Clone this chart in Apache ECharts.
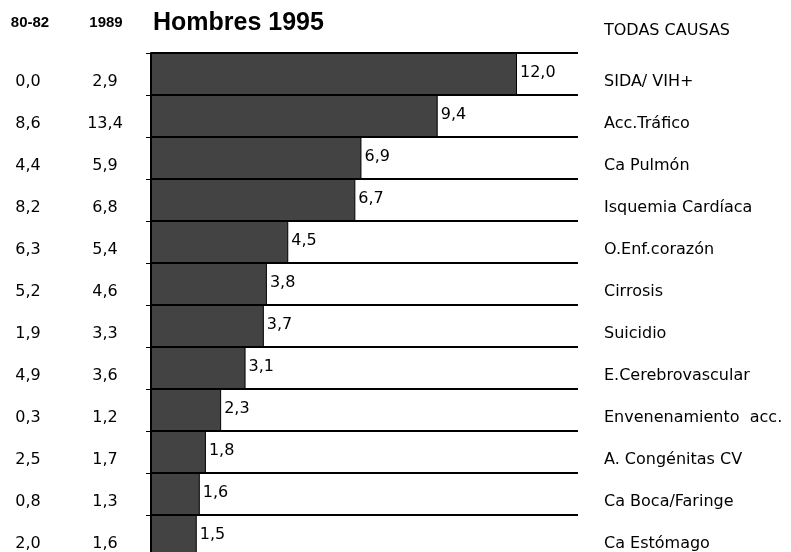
<!DOCTYPE html>
<html>
<head>
<meta charset="utf-8">
<title>Hombres 1995</title>
<script src="https://cdn.jsdelivr.net/npm/echarts@6/dist/echarts.min.js"></script>
<style>
  html, body { margin: 0; padding: 0; background: #fff; }
  #chart { width: 791px; height: 552px; }
</style>
</head>
<body>
<div id="chart"></div>
<script>
// causas de muerte, hombres
const causas = [
  'SIDA/ VIH+', 'Acc.Tráfico', 'Ca Pulmón', 'Isquemia Cardíaca', 'O.Enf.corazón',
  'Cirrosis', 'Suicidio', 'E.Cerebrovascular', 'Envenenamiento  acc.',
  'A. Congénitas CV', 'Ca Boca/Faringe', 'Ca Estómago'
]
const valores1995 = [12.0, 9.4, 6.9, 6.7, 4.5, 3.8, 3.7, 3.1, 2.3, 1.8, 1.6, 1.5]
const valores8082 = [0.0, 8.6, 4.4, 8.2, 6.3, 5.2, 1.9, 4.9, 0.3, 2.5, 0.8, 2.0]
const valores1989 = [2.9, 13.4, 5.9, 6.8, 5.4, 4.6, 3.3, 3.6, 1.2, 1.7, 1.3, 1.6]

const FONT = '"DejaVu Sans", sans-serif'
const FONT_BOLD = '"Liberation Sans", Arial, sans-serif'
const fmt = v => Number(v).toFixed(1).replace('.', ',')

const chart = echarts.init(document.getElementById('chart'))

const baseAxis = {
  type: 'category',
  inverse: true,
  axisLine: { show: false },
  axisTick: { show: false },
  splitLine: { show: false }
}

const option = {
  backgroundColor: '#fff',
  animation: false,
  // last row runs past the bottom edge, like the original
  grid: { left: 151, right: 213, top: 53, height: 504, outerBoundsMode: 'none' },
  xAxis: { type: 'value', min: 0, max: 14, show: false },
  yAxis: [
    {
      ...baseAxis,
      position: 'right',
      z: 5,
      data: causas,
      splitLine: { show: true, lineStyle: { color: '#000', width: 2 } },
      axisLabel: {
        margin: 26, color: '#000', fontSize: 16, fontFamily: FONT,
        verticalAlign: 'top', align: 'left'
      }
    },
    {
      ...baseAxis,
      position: 'left',
      z: 5,
      data: valores8082.map(fmt),
      axisLine: { show: true, lineStyle: { color: '#000', width: 2 } },
      axisTick: { show: true, length: 5, lineStyle: { color: '#000', width: 1 } },
      axisLabel: {
        margin: 123, color: '#000', fontSize: 16, fontFamily: FONT,
        verticalAlign: 'top', align: 'center'
      }
    },
    {
      ...baseAxis,
      position: 'left',
      data: valores1989.map(fmt),
      axisLabel: {
        margin: 46, color: '#000', fontSize: 16, fontFamily: FONT,
        verticalAlign: 'top', align: 'center'
      }
    }
  ],
  graphic: [
    { type: 'text', x: 153, y: 23, style: { text: 'Hombres 1995', font: 'bold 25px ' + FONT_BOLD, fill: '#000', textVerticalAlign: 'middle' } },
    { type: 'text', x: 30, y: 23, style: { text: '80-82', font: 'bold 15px ' + FONT_BOLD, fill: '#000', textAlign: 'center', textVerticalAlign: 'middle' } },
    { type: 'text', x: 106, y: 23, style: { text: '1989', font: 'bold 15px ' + FONT_BOLD, fill: '#000', textAlign: 'center', textVerticalAlign: 'middle' } },
    { type: 'text', x: 604, y: 31, style: { text: 'TODAS CAUSAS', font: '16px ' + FONT, fill: '#000', textVerticalAlign: 'middle' } }
  ],
  series: [{
    type: 'bar',
    yAxisIndex: 0,
    data: valores1995,
    barWidth: '100%',
    itemStyle: { color: '#434343', borderColor: '#000', borderWidth: 1 },
    label: {
      show: true,
      position: 'right',
      distance: 3,
      offset: [0, -1],
      formatter: p => fmt(p.value),
      color: '#000',
      fontSize: 16,
      fontFamily: FONT
    }
  }]
}

chart.setOption(option)
</script>
</body>
</html>
